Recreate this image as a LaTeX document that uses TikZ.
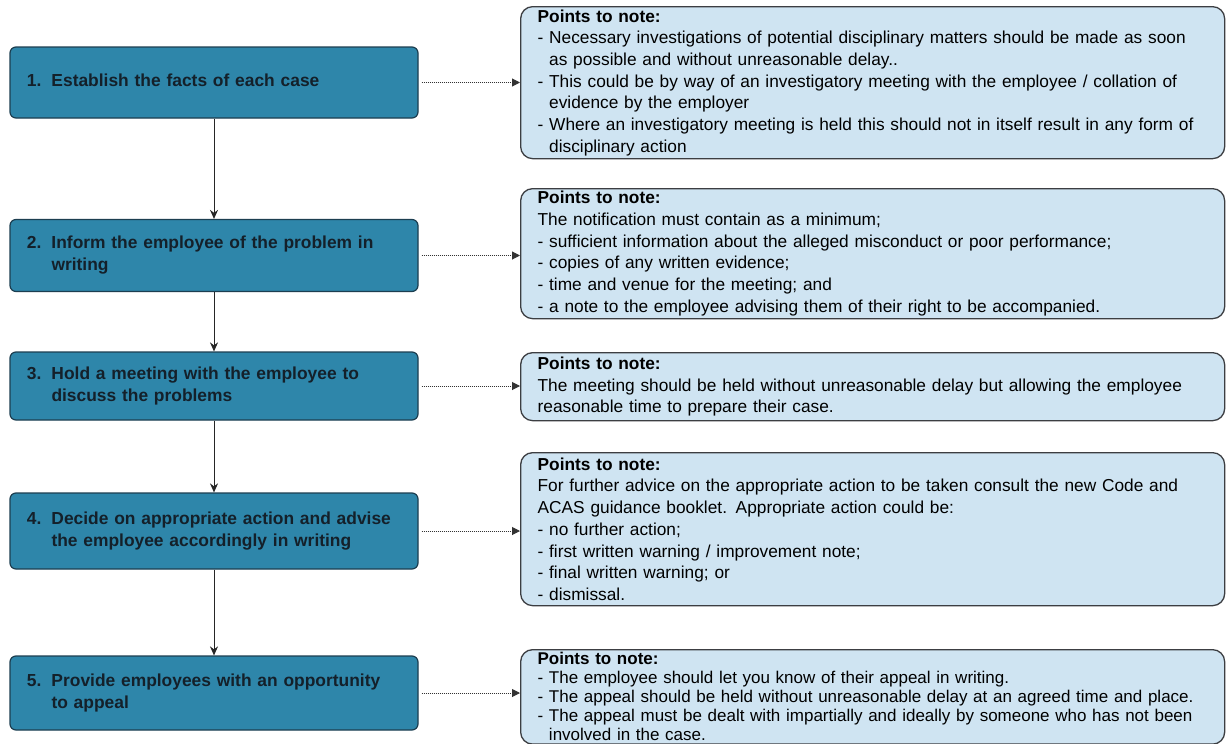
\documentclass[tikz,border=0pt]{standalone}
\usepackage{fontspec}
\setmainfont{Liberation Sans}
\usetikzlibrary{arrows.meta}
\definecolor{lfill}{RGB}{46,134,170}
\definecolor{ldraw}{RGB}{28,62,80}
\definecolor{rfill}{RGB}{207,228,242}
\definecolor{rdraw}{RGB}{60,62,66}
\definecolor{ltext}{RGB}{20,32,42}
\newcommand{\cont}{\hphantom{- }}
\newcommand{\pn}{\textbf{Points to note:}}
\newcommand{\stepnum}[2]{\begin{tabular}{@{}l@{\hspace{10pt}}l@{}}#1 & #2\end{tabular}}
\begin{document}
\begin{tikzpicture}[x=1pt,y=-1pt,
  lbox/.style={draw=ldraw, line width=1.2pt, fill=lfill, rounded corners=6pt,
    minimum width=408pt, inner xsep=17pt, text width=374pt, align=left,
    font=\fontsize{17.4}{22}\selectfont\bfseries, text=ltext},
  rbox/.style={draw=rdraw, line width=1.3pt, fill=rfill, rounded corners=12pt,
    minimum width=704pt, inner xsep=17pt, inner ysep=1pt, text width=670pt,
    align=left, font=\fontsize{17.3}{21.7}\selectfont, anchor=north west},
  vline/.style={draw=black!85, line width=1pt, -{Stealth[length=9pt,width=8pt]}},
  dline/.style={draw=black!80, line width=1pt, dash pattern=on 1pt off 1pt,
    -{Triangle[length=8pt,width=8pt]}}
]
\clip (0,0) rectangle (1226,744);
\fill[white] (0,0) rectangle (1226,744);

\node[lbox, minimum height=71pt] (L1) at (214,82.5)
  {\stepnum{1.}{Establish the facts of each case}};
\node[lbox, minimum height=72pt] (L2) at (214,255.5)
  {\stepnum{2.}{Inform the employee of the problem in\\ & writing}};
\node[lbox, minimum height=68pt] (L3) at (214,386)
  {\stepnum{3.}{Hold a meeting with the employee to\\ & discuss the problems}};
\node[lbox, minimum height=76pt] (L4) at (214,531)
  {\stepnum{4.}{Decide on appropriate action and advise\\ & the employee accordingly in writing}};
\node[lbox, minimum height=74pt] (L5) at (214,693)
  {\stepnum{5.}{Provide employees with an opportunity\\ & to appeal}};

\node[rbox, minimum height=152pt] (R1) at (520,6)
  {\pn\\
   - Necessary investigations of potential disciplinary matters should be made as soon\\
   \cont as possible and without unreasonable delay..\\
   - This could be by way of an investigatory meeting with the employee / collation of\\
   \cont evidence by the employer\\
   - Where an investigatory meeting is held this should not in itself result in any form of\\
   \cont disciplinary action};
\node[rbox, minimum height=130pt] (R2) at (520,188)
  {\pn\\
   The notification must contain as a minimum;\\
   - sufficient information about the alleged misconduct or poor performance;\\
   - copies of any written evidence;\\
   - time and venue for the meeting; and\\
   - a note to the employee advising them of their right to be accompanied.};
\node[rbox, minimum height=68pt] (R3) at (520,352)
  {\pn\\
   The meeting should be held without unreasonable delay but allowing the employee\\
   reasonable time to prepare their case.};
\node[rbox, minimum height=153pt] (R4) at (520,452)
  {\pn\\
   For further advice on the appropriate action to be taken consult the new Code and\\
   ACAS guidance booklet. Appropriate action could be:\\
   - no further action;\\
   - first written warning / improvement note;\\
   - final written warning; or\\
   - dismissal.};
\node[rbox, inner ysep=3pt, font=\fontsize{17}{19}\selectfont] (R5) at (520,649)
  {\pn\\
   - The employee should let you know of their appeal in writing.\\
   - The appeal should be held without unreasonable delay at an agreed time and place.\\
   - The appeal must be dealt with impartially and ideally by someone who has not been\\
   \cont involved in the case.};

\draw[vline] (L1.south) -- (L2.north);
\draw[vline] (L2.south) -- (L3.north);
\draw[vline] (L3.south) -- (L4.north);
\draw[vline] (L4.south) -- (L5.north);

\draw[dline] ([xshift=3pt]L1.east) -- (L1.east -| R1.west);
\draw[dline] ([xshift=3pt]L2.east) -- (L2.east -| R2.west);
\draw[dline] ([xshift=3pt]L3.east) -- (L3.east -| R3.west);
\draw[dline] ([xshift=3pt]L4.east) -- (L4.east -| R4.west);
\draw[dline] ([xshift=3pt]L5.east) -- (L5.east -| R5.west);
\end{tikzpicture}
\end{document}
